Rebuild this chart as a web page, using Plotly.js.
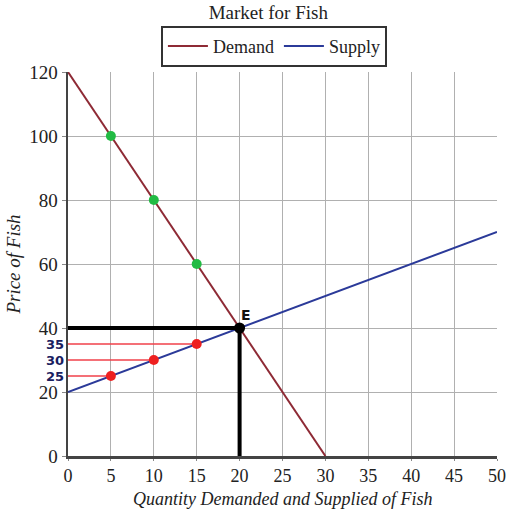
<!DOCTYPE html>
<html><head><meta charset="utf-8">
<script src="https://cdn.plot.ly/plotly-3.0.1.min.js"></script>
<style>body{margin:0;padding:0;background:#fff}#chart{width:511px;height:510px}</style>
</head><body><div id="chart"></div>
<script>
const demandQ = [0, 30];
const demandP = [120, 0];
const supplyQ = [0, 50];
const supplyP = [20, 70];
const greenQ = [5, 10, 15];
const greenP = [100, 80, 60];
const redQ = [5, 10, 15];
const redP = [25, 30, 35];
const eqQ = 20;
const eqP = 40;
const xTicks = [0,5,10,15,20,25,30,35,40,45,50];
const yTicks = [0,20,40,60,80,100,120];
const extraLabels = ['25','30','35'];

const traces = [];
traces.push({x: demandQ, y: demandP, mode: 'lines', name: 'Demand', line: {color: '#8e2a35', width: 2}});
traces.push({x: supplyQ, y: supplyP, mode: 'lines', name: 'Supply', line: {color: '#2b3a99', width: 2}});
redQ.forEach((q, i) => {
  traces.push({x: [0, q], y: [redP[i], redP[i]], mode: 'lines', showlegend: false, line: {color: '#f0404a', width: 1.3}, hoverinfo: 'skip'});
});
traces.push({x: [0, eqQ, eqQ], y: [eqP, eqP, 0], mode: 'lines', showlegend: false, line: {color: '#000', width: 4}});
traces.push({x: greenQ, y: greenP, mode: 'markers', showlegend: false, marker: {color: '#22bb44', size: 10}});
traces.push({x: redQ, y: redP, mode: 'markers', showlegend: false, marker: {color: '#ee2020', size: 10}});
traces.push({x: [eqQ], y: [eqP], mode: 'markers', showlegend: false, marker: {color: '#000', size: 11}});

const sf = {family: 'Liberation Serif', size: 19, color: '#222'};

const annotations = extraLabels.map((t, i) => ({
  x: 0, y: redP[i], xref: 'x', yref: 'y', text: t, showarrow: false,
  xanchor: 'right', xshift: -2, font: {family: 'DejaVu Sans', size: 13, weight: 'bold', color: '#1a2060'}
}));
annotations.push({x: eqQ, y: eqP, xref: 'x', yref: 'y', text: 'E', showarrow: false,
  xanchor: 'left', yanchor: 'bottom', xshift: -1, yshift: 3, font: {family: 'DejaVu Sans', size: 14, weight: 'bold', color: '#111'}});
annotations.push({x: 0.5, y: 0, xref: 'paper', yref: 'paper', text: '<i>Quantity Demanded and Supplied of Fish</i>',
  showarrow: false, xanchor: 'center', yanchor: 'bottom', yshift: -54, borderpad: 0,
  font: {family: 'Liberation Serif', size: 18, color: '#222'}});

const layout = {
  width: 511, height: 510,
  margin: {l: 68, r: 14, t: 72, b: 54},
  paper_bgcolor: '#fff', plot_bgcolor: '#fff',
  font: {family: 'Liberation Serif', color: '#222'},
  title: {text: 'Market for Fish', font: sf, x: 0.525, xanchor: 'center', y: 0.975, yanchor: 'middle', yref: 'container'},
  showlegend: true,
  legend: {orientation: 'h', x: 0.48, xanchor: 'center', y: 1.067, yanchor: 'middle',
    bordercolor: '#333', borderwidth: 2, font: {family: 'Liberation Serif', size: 18, color: '#222'},
    itemwidth: 40, tracegroupgap: 0},
  xaxis: {range: [0, 50], tickvals: xTicks, ticktext: xTicks.map(String), showgrid: true, gridcolor: '#b0b0b0', gridwidth: 1,
    zeroline: false, showline: true, linecolor: '#444', linewidth: 2.5, ticks: 'outside', ticklen: 2, tickcolor: '#888',
    tickfont: {family: 'Liberation Serif', size: 18, color: '#222'}, automargin: false},
  yaxis: {range: [0, 120], tickvals: yTicks, ticktext: yTicks.map(String), showgrid: true, gridcolor: '#b0b0b0', gridwidth: 1,
    zeroline: false, showline: true, linecolor: '#444', linewidth: 2.5, ticks: 'outside', ticklen: 4, tickcolor: '#888',
    tickfont: sf, automargin: false,
    title: {text: '<i>Price of Fish</i>', font: sf, standoff: 4}},
  annotations: annotations
};
Plotly.newPlot('chart', traces, layout, {displayModeBar: false, staticPlot: true});
</script></body></html>
